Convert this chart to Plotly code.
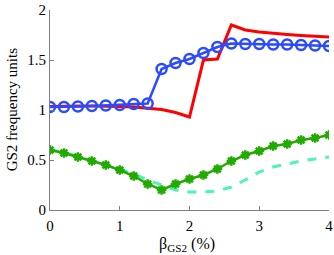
import plotly.graph_objects as go

beta = [0, 0.2, 0.4, 0.6, 0.8, 1.0, 1.2, 1.4, 1.6, 1.8, 2.0, 2.2, 2.4, 2.6, 2.8, 3.0, 3.2, 3.4, 3.6, 3.8, 4.0]
blue = [1.03, 1.03, 1.035, 1.04, 1.045, 1.05, 1.06, 1.065, 1.41, 1.47, 1.51, 1.57, 1.63, 1.665, 1.66, 1.66, 1.655, 1.655, 1.65, 1.645, 1.64]
red = [1.035, 1.04, 1.04, 1.04, 1.04, 1.035, 1.03, 1.02, 1.005, 0.975, 0.93, 1.50, 1.51, 1.85, 1.80, 1.78, 1.765, 1.755, 1.745, 1.74, 1.73]
green = [0.60, 0.57, 0.53, 0.49, 0.45, 0.40, 0.34, 0.26, 0.20, 0.26, 0.31, 0.35, 0.41, 0.49, 0.55, 0.59, 0.64, 0.66, 0.70, 0.72, 0.75]
cyan = [0.60, 0.575, 0.535, 0.495, 0.455, 0.41, 0.36, 0.30, 0.25, 0.20, 0.18, 0.18, 0.19, 0.23, 0.30, 0.38, 0.43, 0.46, 0.49, 0.51, 0.53]

xticks = [0, 1, 2, 3, 4]
yticks = [0, 0.5, 1, 1.5, 2]
ytick_text = ["0", "0.5", "1", "1.5", "2"]
xlabel = "β<sub>GS2</sub> (%)"
ylabel = "GS2 frequency units"

font = "Liberation Serif"

fig = go.Figure()
fig.add_trace(go.Scatter(x=beta, y=cyan, mode="lines",
                         line=dict(color="#4cf5b4", width=3, dash="dash")))
fig.add_trace(go.Scatter(x=beta, y=green, mode="lines+markers",
                         line=dict(color="#22aa00", width=2.5),
                         marker=dict(symbol="asterisk-open", size=8,
                                     line=dict(color="#22aa00", width=2.5))))
fig.add_trace(go.Scatter(x=beta, y=red, mode="lines",
                         line=dict(color="#ff0000", width=3)))
fig.add_trace(go.Scatter(x=beta, y=blue, mode="lines+markers",
                         line=dict(color="#2a4bff", width=2.5),
                         marker=dict(symbol="circle-open", size=10,
                                     line=dict(color="#2a4bff", width=2.5))))

fig.update_layout(
    width=334, height=255,
    margin=dict(l=50, r=5, t=10, b=45, autoexpand=False),
    paper_bgcolor="white", plot_bgcolor="white",
    showlegend=False,
    font=dict(family=font, size=15, color="black"),
    annotations=[
        dict(text=xlabel, xref="paper", yref="paper", x=0.49, y=-0.115,
             xanchor="center", yanchor="top", showarrow=False,
             font=dict(family=font, size=16)),
        dict(text=ylabel, xref="paper", yref="paper", x=-0.135, y=0.5,
             xanchor="center", yanchor="middle", textangle=-90, showarrow=False,
             font=dict(family=font, size=15)),
    ],
)
fig.update_xaxes(range=[0, 4], tickvals=xticks, ticks="inside", ticklen=4,
                 tickcolor="#808080", showline=True, linecolor="#808080",
                 linewidth=1, showgrid=False, zeroline=False, automargin=False,
                 ticklabeloverflow="allow", ticklabelstandoff=2)
fig.update_yaxes(range=[0, 2], tickvals=yticks, ticktext=ytick_text,
                 ticks="inside", ticklen=4,
                 tickcolor="#808080", showline=True, linecolor="#808080",
                 linewidth=1, showgrid=False, zeroline=False, automargin=False,
                 ticklabeloverflow="allow")

fig.write_html("out.html", config={"displayModeBar": False},
               post_script="document.body.style.margin='0';document.body.style.overflow='hidden';")
